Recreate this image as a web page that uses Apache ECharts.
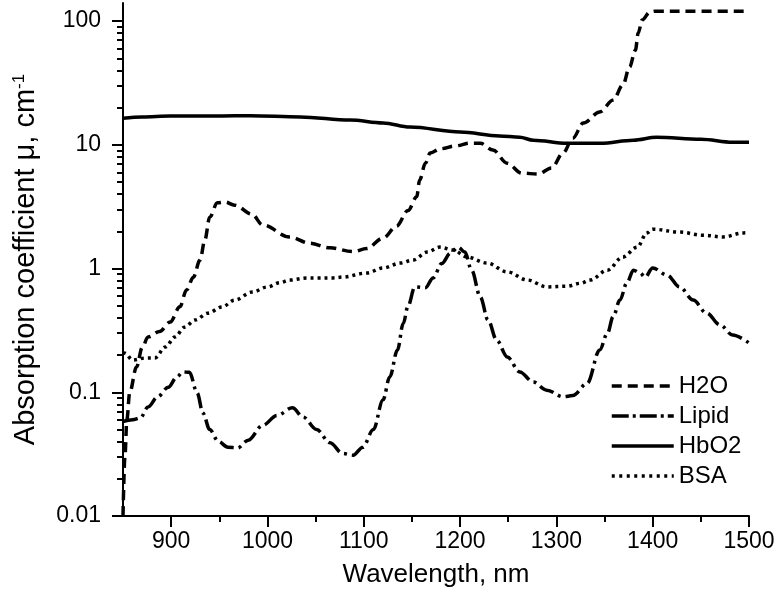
<!DOCTYPE html>
<html>
<head>
<meta charset="utf-8">
<script src="https://cdn.jsdelivr.net/npm/echarts@6/dist/echarts.min.js"></script>
<style>html,body{margin:0;padding:0;background:#fff}#c{width:776px;height:605px}</style>
</head>
<body>
<div id="c"></div>
<script>
// ---- data ----
const xTicks = [900, 1000, 1100, 1200, 1300, 1400, 1500];
const xMinorTicks = [950, 1050, 1150, 1250, 1350, 1450];
const yTicks = [0.01, 0.1, 1, 10, 100];
const yMinorTicks = [0.02,0.03,0.04,0.05,0.06,0.07,0.08,0.09,
  0.2,0.3,0.4,0.5,0.6,0.7,0.8,0.9,
  2,3,4,5,6,7,8,9,
  20,30,40,50,60,70,80,90];

const h2oWl = [850,852,854,857,864,870,876,888,899,909,916,923,930,935,940,948,956,966,984,995,1023,1044,1065,1089,1103,1120,1134,1146,1155,1158,1164,1169,1180,1195,1210,1221,1234,1249,1264,1281,1295,1307,1317,1328,1345,1359,1369,1376,1382,1385,1389,1397,1402,1450,1500];
const h2oVal = [0.01,0.03,0.06,0.1,0.16,0.23,0.28,0.31,0.37,0.49,0.67,0.85,1.17,1.7,2.6,3.4,3.45,3.25,2.75,2.25,1.8,1.6,1.47,1.37,1.45,1.76,2.2,2.95,3.8,5.2,7.1,8.6,9.3,9.8,10.3,10.3,9.1,7.1,5.9,5.8,6.5,8.6,11.3,15,18.4,23,30.4,42.5,58,80,102,118,120,120,120];

const lipidWl = [850,860,868,876,886,897,906,912,919,927,933,940,949,959,969,980,995,1010,1026,1037,1051,1065,1078,1089,1099,1110,1120,1127,1135,1141,1146,1153,1164,1172,1181,1190,1198,1205,1212,1221,1229,1238,1249,1262,1276,1290,1307,1317,1332,1345,1353,1359,1366,1373,1380,1387,1392,1400,1415,1428,1442,1456,1470,1483,1500];
const lipidVal = [0.058,0.06,0.062,0.076,0.092,0.11,0.133,0.146,0.145,0.099,0.068,0.05,0.04,0.036,0.0355,0.041,0.054,0.065,0.075,0.063,0.05,0.039,0.032,0.031,0.036,0.05,0.087,0.133,0.22,0.36,0.5,0.71,0.7,0.84,1.1,1.33,1.49,1.36,0.97,0.59,0.384,0.264,0.193,0.146,0.121,0.104,0.092,0.094,0.118,0.22,0.3,0.41,0.556,0.76,0.97,0.92,0.85,1.01,0.885,0.71,0.556,0.436,0.35,0.29,0.25];

const hbo2Wl = [850,870,899,950,982,1034,1086,1120,1148,1200,1241,1262,1276,1311,1346,1380,1404,1450,1483,1500];
const hbo2Val = [16.4,16.8,17.1,17.1,17.2,16.8,15.85,15,13.9,12.7,11.8,11.5,10.9,10.3,10.3,10.9,11.5,11.1,10.5,10.5];

const bsaWl = [850,852,860,873,883,894,904,914,925,938,953,966,984,1000,1013,1023,1041,1051,1068,1078,1103,1120,1138,1151,1166,1179,1193,1207,1228,1249,1270,1290,1311,1325,1335,1353,1369,1384,1394,1400,1428,1452,1473,1494,1500];
const bsaVal = [0.21,0.207,0.182,0.189,0.189,0.232,0.28,0.336,0.384,0.436,0.49,0.556,0.645,0.71,0.77,0.807,0.838,0.838,0.84,0.853,0.92,1.01,1.107,1.17,1.36,1.49,1.41,1.24,1.107,0.94,0.807,0.71,0.72,0.76,0.807,0.97,1.24,1.49,1.94,2.08,1.97,1.86,1.8,1.94,1.95];

const seriesNames = ['H2O', 'Lipid', 'HbO2', 'BSA'];
const dashTypes = [[10, 6], [15, 5, 3, 5], 'solid', [3, 4]];
const legendDash = [[10, 6], [17, 4, 3, 4], 'solid', [3, 4.5]];

function pairs(xs, ys) { return xs.map((x, i) => [x, ys[i]]); }

const FONT = 'Liberation Sans, Arial, sans-serif';
const chart = echarts.init(document.getElementById('c'), null, { renderer: 'canvas' });

const lineBase = { type: 'line', symbol: 'none', smooth: 0.35, smoothMonotone: 'x', xAxisIndex: 0, yAxisIndex: 0 };
const dataSets = [pairs(h2oWl, h2oVal), pairs(lipidWl, lipidVal), pairs(hbo2Wl, hbo2Val), pairs(bsaWl, bsaVal)];

chart.setOption({
  animation: false,
  backgroundColor: '#fff',
  textStyle: { fontFamily: FONT, color: '#000' },
  grid: { left: 123, right: 27, top: 3, bottom: 89, outerBoundsMode: 'none' },
  legend: {
    orient: 'vertical', left: 605, top: 369,
    itemWidth: 62, itemHeight: 14, itemGap: 6,
    itemStyle: { opacity: 0 },
    textStyle: { fontSize: 24, color: '#000', fontFamily: FONT },
    data: seriesNames.map((n, i) => ({ name: n, lineStyle: { width: 3.5, color: '#000', type: legendDash[i] } }))
  },
  xAxis: [{
    type: 'value', min: 850, max: 1500,
    axisLine: { lineStyle: { color: '#000', width: 2 } },
    axisTick: { customValues: xTicks, length: 11, lineStyle: { color: '#000', width: 2 } },
    axisLabel: { customValues: xTicks, fontSize: 23, color: '#000', margin: 14, fontFamily: FONT,
      formatter: v => String(v) },
    splitLine: { show: false },
    name: 'Wavelength, nm', nameLocation: 'middle', nameGap: 46,
    nameTextStyle: { fontSize: 26, color: '#000', fontFamily: FONT }
  }, {
    type: 'value', min: 850, max: 1500, position: 'bottom',
    axisLine: { show: false },
    axisTick: { customValues: xMinorTicks, length: 6, lineStyle: { color: '#000', width: 2 } },
    axisLabel: { show: false }, splitLine: { show: false }
  }],
  yAxis: [{
    type: 'log', logBase: 10, min: 0.01, max: 140,
    axisLine: { show: true, lineStyle: { color: '#000', width: 2 } },
    axisTick: { show: true, customValues: yTicks, length: 11, lineStyle: { color: '#000', width: 2 } },
    axisLabel: { customValues: yTicks, fontSize: 23, color: '#000', margin: 22, fontFamily: FONT,
      formatter: v => String(v) },
    splitLine: { show: false },
    name: '{a|Absorption coefficient μ, cm}{s|-1}', nameLocation: 'middle', nameGap: 83, nameRotate: 90,
    nameTextStyle: { fontFamily: FONT, color: '#000',
      rich: { a: { fontSize: 29, fontFamily: FONT, color: '#000' },
              s: { fontSize: 17, fontFamily: FONT, color: '#000', verticalAlign: 'top' } } }
  }, {
    type: 'log', logBase: 10, min: 0.01, max: 140, position: 'left',
    axisLine: { show: false },
    axisTick: { show: true, customValues: yMinorTicks, length: 6, lineStyle: { color: '#000', width: 2 } },
    axisLabel: { show: false }, splitLine: { show: false }
  }],
  series: seriesNames.map((n, i) => Object.assign({}, lineBase, {
    name: n, data: dataSets[i],
    lineStyle: { color: '#000', width: 3.5, type: dashTypes[i] },
    itemStyle: { color: '#000' }
  }))
});
</script>
</body>
</html>
